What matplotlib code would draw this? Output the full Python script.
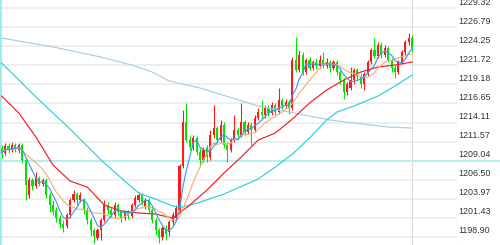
import matplotlib
matplotlib.use("Agg")
import matplotlib.pyplot as plt
import matplotlib.transforms as mtransforms
import numpy as np
import pandas as pd

# candle data (price)
opens = [
    1210.72, 1210.06, 1210.99, 1210.45, 1211.12, 1210.45, 1211.12, 1209.12, 1204.47, 1206.46,
    1205.66, 1206.73, 1205.93, 1206.46, 1204.47, 1203.13, 1202.47, 1201.40, 1200.61, 1200.34,
    1201.80, 1203.80, 1204.60, 1203.80, 1203.80, 1202.47, 1201.14, 1199.81, 1198.74, 1199.81,
    1201.14, 1203.13, 1202.47, 1201.80, 1203.13, 1202.20, 1201.40, 1202.20, 1201.67, 1203.13,
    1203.80, 1204.47, 1202.87, 1203.80, 1202.47, 1201.14, 1199.81, 1198.88, 1200.07, 1199.54,
    1200.87, 1201.40, 1202.47, 1208.33, 1214.18, 1211.79, 1210.72, 1212.05, 1210.19, 1209.12,
    1210.72, 1209.52, 1212.45, 1213.38, 1211.79, 1213.78, 1211.12, 1210.45, 1211.79, 1213.12,
    1212.45, 1214.18, 1212.85, 1213.78, 1213.12, 1214.71, 1215.51, 1215.11, 1216.05, 1215.38,
    1216.44, 1215.51, 1217.11, 1216.31, 1216.84, 1216.05, 1222.43, 1221.10, 1223.10, 1220.84,
    1222.43, 1221.37, 1222.17, 1221.64, 1222.43, 1221.64, 1222.17, 1221.37, 1222.17, 1220.84,
    1219.77, 1218.17, 1218.71, 1219.77, 1221.10, 1220.30, 1219.24, 1220.57, 1222.17, 1223.76,
    1222.97, 1224.43, 1223.10, 1224.03, 1222.43, 1221.37, 1220.84, 1222.17, 1223.50, 1224.83,
    1225.36,
]
highs = [
    1211.12, 1211.39, 1211.39, 1211.52, 1211.39, 1211.39, 1211.39, 1209.39, 1206.86, 1206.73,
    1207.53, 1206.99, 1206.73, 1206.73, 1204.86, 1203.80, 1202.87, 1201.80, 1201.14, 1202.07,
    1204.07, 1205.13, 1204.86, 1204.86, 1204.07, 1202.87, 1201.40, 1200.07, 1200.07, 1201.40,
    1203.80, 1203.53, 1202.87, 1203.53, 1203.40, 1202.47, 1202.47, 1202.47, 1203.40, 1204.47,
    1204.86, 1204.73, 1204.07, 1204.07, 1202.74, 1201.40, 1200.07, 1200.34, 1200.47, 1201.14,
    1202.20, 1203.13, 1208.59, 1215.78, 1216.71, 1212.45, 1212.45, 1212.32, 1210.72, 1210.85,
    1211.12, 1213.12, 1216.44, 1213.65, 1214.45, 1214.18, 1211.52, 1212.05, 1215.11, 1213.52,
    1216.71, 1214.45, 1214.18, 1214.18, 1215.11, 1216.05, 1217.11, 1216.44, 1216.44, 1216.84,
    1216.71, 1218.71, 1217.38, 1217.24, 1217.11, 1222.83, 1225.50, 1223.76, 1223.50, 1222.70,
    1222.83, 1222.43, 1222.70, 1223.10, 1223.50, 1222.70, 1222.43, 1222.43, 1222.43, 1221.10,
    1220.04, 1219.51, 1221.50, 1221.37, 1221.37, 1220.70, 1220.84, 1222.43, 1224.03, 1225.36,
    1224.83, 1224.83, 1224.43, 1224.30, 1222.70, 1221.77, 1222.43, 1223.76, 1225.10, 1226.03,
    1225.76,
]
lows = [
    1209.39, 1209.79, 1210.06, 1210.19, 1210.19, 1210.06, 1208.72, 1203.80, 1204.07, 1205.13,
    1205.40, 1205.66, 1205.66, 1204.07, 1202.20, 1201.80, 1200.87, 1200.07, 1199.54, 1200.07,
    1201.40, 1203.53, 1203.13, 1203.53, 1201.94, 1200.61, 1199.01, 1198.08, 1198.48, 1198.48,
    1200.87, 1201.94, 1201.40, 1201.54, 1201.80, 1200.87, 1201.14, 1201.27, 1201.40, 1202.87,
    1203.53, 1203.13, 1202.60, 1202.07, 1200.74, 1199.14, 1198.08, 1198.48, 1198.48, 1199.01,
    1200.47, 1201.14, 1202.20, 1208.06, 1211.52, 1210.45, 1210.45, 1209.79, 1208.46, 1208.86,
    1208.86, 1209.12, 1212.05, 1211.39, 1211.52, 1210.72, 1208.86, 1210.19, 1211.52, 1212.05,
    1212.19, 1212.45, 1212.58, 1211.12, 1212.85, 1214.45, 1214.71, 1214.71, 1214.98, 1215.11,
    1215.11, 1215.25, 1215.91, 1216.05, 1215.25, 1215.78, 1220.84, 1220.84, 1220.44, 1220.57,
    1221.10, 1221.10, 1221.24, 1221.37, 1221.37, 1221.37, 1220.84, 1221.10, 1220.44, 1219.24,
    1217.24, 1217.78, 1218.44, 1219.24, 1219.77, 1218.71, 1218.44, 1220.30, 1221.90, 1222.70,
    1222.70, 1222.70, 1222.83, 1222.17, 1220.84, 1220.04, 1220.57, 1221.90, 1223.10, 1224.43,
    1223.50,
]
closes = [
    1210.06, 1210.99, 1210.45, 1211.12, 1210.59, 1211.12, 1209.12, 1205.80, 1206.46, 1205.66,
    1206.73, 1205.93, 1206.46, 1204.47, 1203.13, 1202.20, 1201.40, 1200.61, 1200.07, 1201.80,
    1203.80, 1204.60, 1203.80, 1204.47, 1202.47, 1201.14, 1199.81, 1199.01, 1199.81, 1201.14,
    1203.13, 1202.47, 1201.80, 1203.13, 1202.20, 1201.40, 1202.20, 1201.67, 1203.13, 1204.07,
    1204.47, 1203.53, 1203.80, 1202.47, 1201.14, 1199.81, 1198.74, 1200.07, 1199.27, 1200.87,
    1201.80, 1202.74, 1208.33, 1214.18, 1211.79, 1210.85, 1212.05, 1210.19, 1209.12, 1210.45,
    1209.52, 1212.45, 1213.38, 1211.79, 1213.78, 1211.12, 1210.45, 1211.79, 1213.12, 1212.45,
    1214.18, 1212.85, 1213.78, 1213.12, 1214.71, 1215.51, 1215.11, 1216.05, 1215.38, 1216.44,
    1215.51, 1217.11, 1216.31, 1216.84, 1216.05, 1222.43, 1221.10, 1223.10, 1220.84, 1222.43,
    1221.37, 1222.17, 1221.64, 1222.43, 1221.64, 1222.17, 1221.37, 1222.17, 1220.84, 1219.77,
    1218.17, 1219.24, 1219.77, 1221.10, 1220.30, 1219.24, 1220.57, 1222.17, 1223.76, 1222.97,
    1224.43, 1223.10, 1224.03, 1222.43, 1221.37, 1220.84, 1222.17, 1223.50, 1224.83, 1225.36,
    1224.03,
]

# longer moving averages (their history starts before the visible window)
ma20_idx = [0, 5, 10, 15, 20, 25, 30, 35, 40, 45, 50, 52, 55, 60, 65, 70, 75, 80, 85, 90,
            95, 100, 105, 110, 115, 120]
ma20_val = [1217.64, 1215.38, 1212.19, 1208.46, 1206.33, 1205.53, 1203.13, 1202.34, 1202.07,
            1201.94, 1201.40, 1202.07, 1203.13, 1205.13, 1207.39, 1209.52, 1211.79, 1212.72,
            1214.58, 1216.71, 1218.44, 1219.77, 1220.84, 1221.50, 1221.77, 1222.17]

ma60_idx = [0, 10, 20, 30, 40, 45, 50, 53, 58, 65, 75, 80, 85, 90, 95, 98, 103, 110, 115, 120]
ma60_val = [1222.03, 1217.51, 1213.25, 1208.72, 1204.73, 1203.93, 1203.00, 1202.87, 1203.53,
            1204.60, 1206.60, 1208.19, 1209.92, 1212.05, 1214.45, 1215.51, 1216.31, 1217.64,
            1218.97, 1220.44]

ma120_idx = [0, 15, 29, 38, 44, 49, 58, 75, 90, 96, 103, 113, 120]
ma120_val = [1225.36, 1224.17, 1222.83, 1221.77, 1220.84, 1219.64, 1218.71, 1216.31, 1214.98,
             1214.45, 1214.05, 1213.52, 1213.38]

tick_values = [1229.32, 1226.79, 1224.25, 1221.72, 1219.18, 1216.65, 1214.11,
               1211.57, 1209.04, 1206.50, 1203.97, 1201.43, 1198.90]
marked_level = 1209.04

UP = "#ff1a1a"
DOWN = "#00e600"

o = np.array(opens)
h = np.array(highs)
l = np.array(lows)
c = np.array(closes)
x = np.arange(len(c))
up = c >= o

ma5 = pd.Series(c).rolling(5, min_periods=1).mean()
ma10 = pd.Series(c).rolling(10, min_periods=1).mean()

fig = plt.figure(figsize=(5.0, 2.45), dpi=100)
fig.patch.set_facecolor("white")
ax = fig.add_axes([0, 0, 457 / 500, 1])
ax.set_xlim(-0.5, -0.5 + 457 / 3.42)
ax.set_ylim(1197.82, 1230.42)
ax.axis("off")

for v in tick_values:
    if v == marked_level:
        ax.axhline(v, xmin=0, xmax=500 / 457, color="#a6ecec", lw=1.2,
                   clip_on=False, zorder=1)
    else:
        ax.axhline(v, color="#e9e9e9", lw=1.1, zorder=0)

ax.axvline(-0.5, color="#9eeaea", lw=2.0, zorder=1)
ax.axvline(x[-1] + 0.05, color="#dcdcdc", lw=0.8, zorder=1)
ax.axvline(ax.get_xlim()[1], color="#e4e4e4", lw=0.8, zorder=1)

colors = np.where(up, UP, DOWN)
ax.vlines(x, l, h, colors=colors, lw=0.8, zorder=2)
body_lo = np.minimum(o, c)
body_h = np.maximum(np.abs(c - o), 0.12)
ax.bar(x, body_h, bottom=body_lo, width=0.62, color=colors, lw=0, zorder=3)

ax.plot(ma120_idx, ma120_val, color="#a9cde6", lw=0.85, zorder=4)
ax.plot(ma60_idx, ma60_val, color="#2ccfe0", lw=0.85, zorder=4)
ax.plot(ma20_idx, ma20_val, color="#ee2020", lw=0.85, zorder=4)
ax.plot(x, ma10, color="#f4b07c", lw=0.85, zorder=5)
ax.plot(x, ma5, color="#3d9cf0", lw=0.85, zorder=6)

label_tr = mtransforms.offset_copy(
    mtransforms.blended_transform_factory(ax.transAxes, ax.transData),
    fig=fig, x=0, y=4.5, units="points")
for v in tick_values:
    ax.text(1.003, v, f"{v:.2f}", transform=label_tr, ha="left", va="center",
            fontsize=6.4, family="Liberation Sans", color="#333333", clip_on=False)

# faint watermark, only its top edge shows at the bottom of the chart
fig.text(328 / 500, -1.5 / 245, "FX1", color="#f9b995", fontsize=15,
         fontweight="bold", family="DejaVu Sans", va="top", ha="left", alpha=0.9)
fig.text(380 / 500, -1.5 / 245, "68", color="#8eb1c9", fontsize=15,
         fontweight="bold", family="DejaVu Sans", va="top", ha="left", alpha=0.9)

fig.savefig("out.png", dpi=100, facecolor="white")
